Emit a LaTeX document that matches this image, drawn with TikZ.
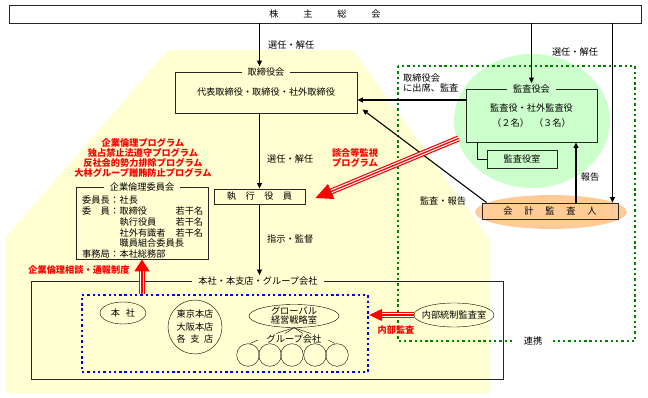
\documentclass[tikz,border=0pt]{standalone}
\usepackage{fontspec}
\setmainfont{Noto Sans CJK JP}
\usetikzlibrary{arrows.meta, positioning, shapes.geometric, calc}

\definecolor{bgyellow}{HTML}{FFFFD2}
\definecolor{kgreen}{HTML}{CCFFCC}
\definecolor{korange}{HTML}{FFCC99}
\definecolor{dgreen}{HTML}{008000}

\tikzset{
  box/.style={draw=black!85, line width=0.9pt, inner sep=0pt},
  boxtitle/.style={fill=#1, inner xsep=6pt, inner ysep=1pt},
  arr/.style={line width=1.1pt, -{Triangle[length=5.5pt,width=5pt]}},
  lbl/.style={inner sep=0pt},
  redtxt/.style={text=red, inner sep=0pt, font=\fontsize{9.2}{10}\selectfont\bfseries},
  gdot/.style={draw=dgreen, line width=2.4pt, dash pattern=on 2.4pt off 2.9pt},
  bdot/.style={draw=blue, line width=2.4pt, dash pattern=on 2.4pt off 2.9pt},
}

% 赤い三本線の矢印
\newcommand{\redarrow}[4]{%
  \draw[red, line width=6pt, shorten >=#3-1pt] #1 -- #2;
  \draw[white, line width=3.6pt, shorten >=#3-1pt] #1 -- #2;
  \draw[red, line width=1.3pt, -{Triangle[length=#3,width=#4]}] #1 -- #2;}

\begin{document}
\begin{tikzpicture}[x=1pt, y=-1pt, font=\fontsize{9.2}{10.4}\selectfont]
  \useasboundingbox (0,0) rectangle (648,398);

  % 背景
  \fill[bgyellow] (168,50) -- (353,50) -- (490,240) -- (490,393) -- (6,393) -- (6,237) -- cycle;
  \fill[kgreen] (532,121) ellipse [x radius=78pt, y radius=67pt];
  \fill[korange] (551,212) ellipse [x radius=76pt, y radius=17pt];

  % 連携の枠
  \draw[gdot] (398,66) rectangle (635,341);
  \node[fill=white, inner xsep=11pt, inner ysep=2pt] (renkei) at (533,341) {連携};

  % 株主総会
  \node[box, minimum width=632, minimum height=18] (soukai) at (325,14)
    {株\hspace{24.8pt}主\hspace{24.8pt}総\hspace{24.8pt}会};

  % 取締役会
  \node[box, minimum width=182, minimum height=41] (torikai) at (266,92.5) {代表取締役・取締役・社外取締役};
  \node[boxtitle=bgyellow] (torikaiT) at (torikai.north) {取締役会};

  % 執行役員
  \node[box, minimum width=91, minimum height=15] (shikkou) at (259.5,196.5)
    {執\hspace{9.5pt}行\hspace{9.5pt}役\hspace{9.5pt}員};

  % 監査役会
  \node[box, minimum width=131, minimum height=53] (kansakai) at (531.5,115.5) {};
  \node[boxtitle=kgreen] (kansaT) at (kansakai.north) {監査役会};
  \node[align=center, inner sep=0pt] (kansaM) at (531.5,115.5)
    {監査役・社外監査役\\[4.6pt]（２名）\hspace{5pt}（３名）};
  \node[box, minimum width=70, minimum height=18] (shitsu) at (522,159) {監査役室};

  % 会計監査人
  \node[box, minimum width=136, minimum height=16] (kaikei) at (550,211)
    {会\hspace{11.8pt}計\hspace{11.8pt}監\hspace{11.8pt}査\hspace{11.8pt}人};

  % 企業倫理委員会
  \node[redtxt, align=center] (prog) at (143,158)
    {企業倫理プログラム\\独占禁止法遵守プログラム\\反社会的勢力排除プログラム\\大林グループ贈賄防止プログラム};
  \node[box, minimum width=132, minimum height=72] (rinri) at (142,223) {};
  \node[boxtitle=bgyellow] (rinriT) at (rinri.north) {企業倫理委員会};
  \node[anchor=north west, inner sep=0pt] (rinriM) at (82,195.5) {%
    \begin{tabular}{@{}l@{\hspace{0.3pt}}c@{\hspace{0.3pt}}p{56pt}@{}l@{}}
      委員長&：&社長&\\
      委\hspace{9.2pt}員&：&取締役&若干名\\
      &&執行役員&若干名\\
      &&社外有識者&若干名\\
      &&\multicolumn{2}{@{}l@{}}{職員組合委員長}\\
      事務局&：&本社総務部&
    \end{tabular}};

  % 本社・本支店・グループ会社
  \node[box, minimum width=472, minimum height=98] (honsha) at (267,330) {};
  \node[boxtitle=bgyellow] (honshaT) at ([xshift=-9pt]honsha.north) {本社・本支店・グループ会社};
  \node[bdot, minimum width=286, minimum height=77] (group) at (225,333.5) {};
  \node[draw, ellipse, minimum width=46, minimum height=22, inner sep=0pt] (hq) at (123,313) {本\hspace{6pt}社};
  \node[draw, circle, minimum size=54, inner sep=0pt, align=center,
        font=\fontsize{9.2}{12.5}\selectfont] (shiten) at (195,327)
    {東京本店\\大阪本店\\各\hspace{4.6pt}支\hspace{4.6pt}店};
  \node[draw, ellipse, minimum width=90, minimum height=23, inner xsep=0pt, inner ysep=-3pt,
        align=center, font=\fontsize{9.2}{9}\selectfont] (global) at (294,316) {グローバル\\経営戦略室};
  \node[inner sep=1pt] (gk) at (294,339) {グループ会社};
  \foreach \i/\x in {1/248,2/270,3/292,4/315,5/337}
    \node[draw, circle, minimum size=22.6, inner sep=0pt] (c\i) at (\x,355) {};
  \foreach \d in {-18,-9,9,17}
    \draw (global.south) -- ([xshift=\d pt]gk.north);
  \coordinate (tl) at (258,340);
  \coordinate (tr) at (328,340);
  \draw ([xshift=2pt]c1.north) -- (tl);
  \draw (tr) -- ([xshift=-2pt]c5.north);

  % 内部統制監査室
  \node[draw, ellipse, minimum width=80, minimum height=24, inner xsep=-6pt, inner ysep=0pt] (naibu) at (454,315) {内部統制監査室};

  % 矢印
  \draw[arr] (soukai.south -| shikkou.north) -- (torikaiT.north -| shikkou.north);
  \draw[arr] (torikai.south -| shikkou.north) -- (shikkou.north);
  \draw[arr] (shikkou.south) -- (honshaT.north -| shikkou.south);
  \draw[arr] (soukai.south -| kansaT.north) -- (kansaT.north);
  \coordinate (kaikeiR) at ([xshift=-6pt]kaikei.north east);
  \draw[arr] (soukai.south -| kaikeiR) -- (kaikeiR);
  \coordinate (rep) at ([xshift=26pt]kaikei.north);
  \draw[arr] (rep) -- (rep |- kansakai.south);
  \coordinate (kw) at ([yshift=15.5pt]kansakai.west);
  \draw[arr] (kw) -- (kw -| torikai.east);
  \coordinate (ks) at ([xshift=12pt]kansakai.south west);
  \draw[line width=0.8pt] (ks) |- (shitsu.west);
  \draw[arr] ([xshift=5pt]kaikei.north west) -- ([xshift=5pt,yshift=4pt]torikai.south east);

  % 赤い矢印
  \redarrow{([xshift=-7pt,yshift=4pt]kansakai.south west)}{([xshift=10pt,yshift=-1.5pt]shikkou.east)}{17pt}{16pt}
  \redarrow{(group.north -| rinri.south)}{(rinri.south)}{12pt}{15pt}
  \redarrow{(naibu.west)}{(group.east |- naibu.west)}{13pt}{12pt}

  % ラベル
  \node[lbl, anchor=west] (l1) at (268,45) {選任・解任};
  \node[lbl, anchor=west] (l2) at (267,159) {選任・解任};
  \node[lbl, anchor=west] (l3) at (267,239) {指示・監督};
  \node[lbl] (l4) at (575,52) {選任・解任};
  \node[lbl, anchor=west, align=left] (l5) at (403,83) {取締役会\\に出席、監査};
  \node[lbl] (l6) at (443,201) {監査・報告};
  \node[lbl] (l7) at (590,177) {報告};
  \node[redtxt, align=center] (dango) at (355,157.5) {談合等監視\\プログラム};
  \node[redtxt] (soudan) at (79,270) {企業倫理相談・通報制度};
  \node[redtxt] (naibuL) at (396,330) {内部監査};
\end{tikzpicture}
\end{document}
